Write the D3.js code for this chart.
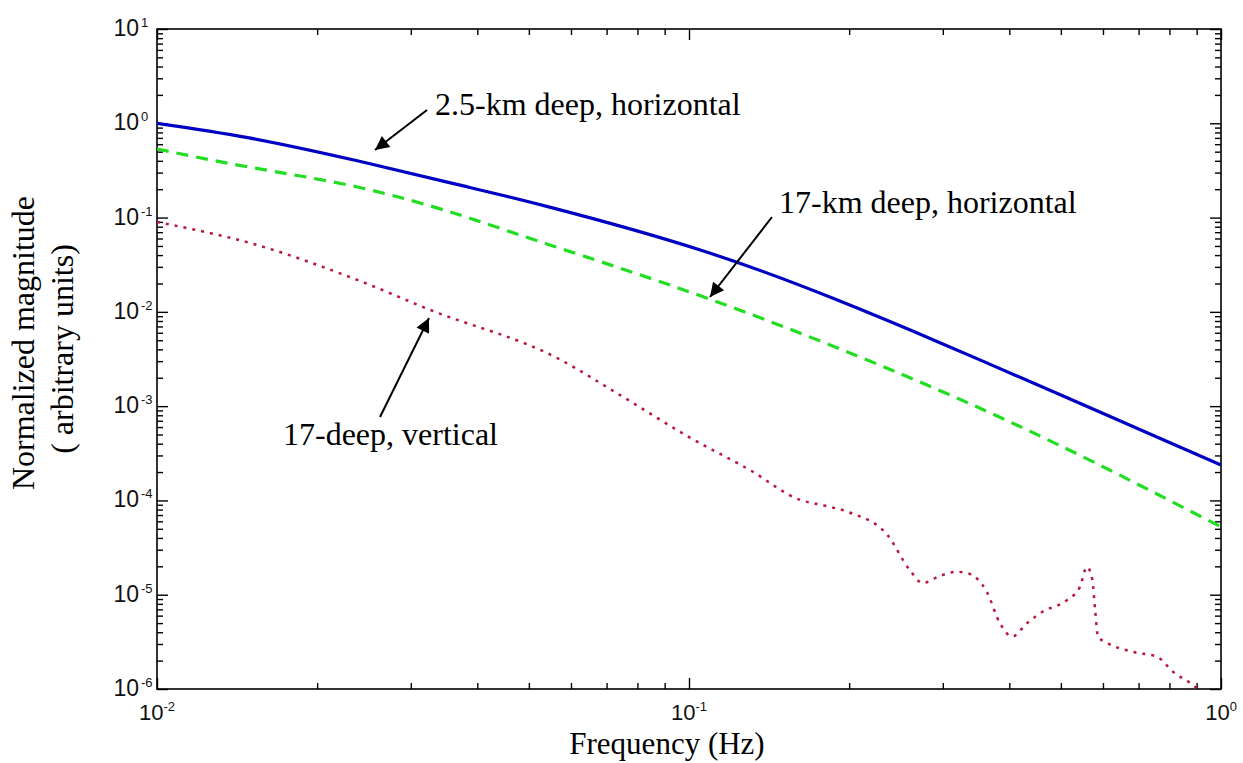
<!DOCTYPE html>
<html>
<head>
<meta charset="utf-8">
<script src="https://cdn.jsdelivr.net/npm/d3@7"></script>
<style>
  body { margin: 0; background: #fff; }
</style>
</head>
<body>
<div id="chart"></div>
<script>
// frequency (Hz) and normalized magnitude
var freqBlue = [0.01, 0.0149, 0.0238, 0.0366, 0.0547, 0.105, 0.186, 0.3, 0.5, 0.7, 1.0];
var magBlue  = [1.0, 0.70, 0.40, 0.225, 0.129, 0.0453, 0.0140, 0.00457, 0.00131, 0.000573, 0.000238];

var freqGreen = [0.01, 0.0149, 0.0238, 0.0366, 0.0547, 0.11, 0.249, 0.498, 1.0];
var magGreen  = [0.534, 0.343, 0.211, 0.109, 0.0513, 0.0135, 0.00222, 0.000382, 0.0000524];

var freqRed = [0.01, 0.0154, 0.0238, 0.0326, 0.0565, 0.0742, 0.1, 0.1302, 0.162, 0.18, 0.201, 0.236, 0.260, 0.275,
               0.296, 0.319, 0.333, 0.363, 0.384, 0.405, 0.432, 0.462, 0.514, 0.543, 0.560, 0.573,
               0.580, 0.587, 0.611, 0.684, 0.759, 0.813, 0.875, 0.934, 1.0];
var magRed  = [0.0898, 0.0513, 0.0218, 0.0105, 0.00324, 0.00131, 0.00047, 0.00021, 0.000101, 0.000088, 0.000074, 0.000043,
               0.0000183, 0.0000133, 0.0000158, 0.0000175, 0.000017, 0.0000107, 0.000005, 0.0000036,
               0.000005, 0.0000066, 0.0000088, 0.0000121, 0.0000197, 0.0000144, 0.0000069, 0.0000036,
               0.00000308, 0.00000247, 0.00000219, 0.00000152, 0.00000116, 0.00000087, 0.0000007];

var xMajor = [0.01, 0.1, 1];
var xExp = ["-2", "-1", "0"];
var yMajor = [1e-6, 1e-5, 1e-4, 1e-3, 1e-2, 1e-1, 1, 10];
var yExp = ["-6", "-5", "-4", "-3", "-2", "-1", "0", "1"];

var annotations = [
  { text: "2.5-km deep, horizontal", tx: 435, ty: 115, x1: 427, y1: 110, x2: 375, y2: 150 },
  { text: "17-km deep, horizontal", tx: 779, ty: 213, x1: 772, y1: 217, x2: 710, y2: 297 },
  { text: "17-deep, vertical", tx: 283, ty: 445, x1: 380, y1: 417, x2: 429, y2: 318 }
];

var SANS = "'Liberation Sans', Arial, Helvetica, sans-serif";
var SERIF = "'Liberation Serif', 'Times New Roman', Times, serif";

function init() {
  var W = 1243, H = 763;
  var m = { left: 157, top: 29, right: 22, bottom: 74 };
  var w = W - m.left - m.right;
  var h = H - m.top - m.bottom;

  var x = d3.scaleLog().domain([0.01, 1]).range([0, w]);
  var y = d3.scaleLog().domain([1e-6, 10]).range([h, 0]);

  // minor tick positions 2..9 in every decade
  function minors(lo, hi) {
    var out = [];
    for (var d = lo; d < hi; d++) {
      for (var k = 2; k <= 9; k++) out.push(k * Math.pow(10, d));
    }
    return out;
  }
  var xMinor = minors(-2, 0);
  var yMinor = minors(-6, 1);

  var svg = d3.select("#chart").append("svg")
      .attr("width", W).attr("height", H);

  var defs = svg.append("defs");
  defs.append("clipPath").attr("id", "clip")
    .append("rect").attr("width", w).attr("height", h);

  var g = svg.append("g").attr("transform", "translate(" + m.left + "," + m.top + ")");

  // ticks on all four sides, pointing inward
  function drawAxis(axis, tr) {
    var a = g.append("g").attr("transform", tr).call(axis);
    a.select(".domain").remove();
    a.selectAll("line").attr("stroke", "#000").attr("stroke-width", 1.4);
    a.selectAll("text").remove();
  }
  [[xMajor, 11], [xMinor, 6]].forEach(function(t) {
    drawAxis(d3.axisBottom(x).tickValues(t[0]).tickSize(-t[1]), "translate(0," + h + ")");
    drawAxis(d3.axisTop(x).tickValues(t[0]).tickSize(-t[1]), "translate(0,0)");
  });
  [[yMajor, 11], [yMinor, 6]].forEach(function(t) {
    drawAxis(d3.axisLeft(y).tickValues(t[0]).tickSize(-t[1]), "translate(0,0)");
    drawAxis(d3.axisRight(y).tickValues(t[0]).tickSize(-t[1]), "translate(" + w + ",0)");
  });

  g.append("rect").attr("width", w).attr("height", h)
    .attr("fill", "none").attr("stroke", "#000").attr("stroke-width", 1.6);

  // tick labels: 10 with superscript exponent
  xMajor.forEach(function(v, i) {
    var t = g.append("text")
      .attr("x", x(v)).attr("y", h + 31)
      .attr("text-anchor", "middle")
      .style("font-family", SANS).style("font-size", "22px").attr("fill", "#111");
    t.append("tspan").text("10");
    t.append("tspan").attr("dy", -9).style("font-size", "13px").text(xExp[i]);
  });
  yMajor.forEach(function(v, i) {
    g.append("text")
      .attr("x", -18).attr("y", y(v) + 7)
      .attr("text-anchor", "end")
      .style("font-family", SANS).style("font-size", "23px").attr("fill", "#111")
      .text("10");
    g.append("text")
      .attr("x", -16).attr("y", y(v) - 2)
      .style("font-family", SANS).style("font-size", "13px").attr("fill", "#111")
      .text(yExp[i]);
  });

  var smooth = d3.line()
    .x(function(d) { return x(d[0]); })
    .y(function(d) { return y(d[1]); })
    .curve(d3.curveNatural);

  var line = d3.line()
    .x(function(d) { return x(d[0]); })
    .y(function(d) { return y(d[1]); })
    .curve(d3.curveMonotoneX);

  var plot = g.append("g").attr("clip-path", "url(#clip)");

  plot.append("path")
    .attr("d", smooth(d3.zip(freqBlue, magBlue)))
    .attr("fill", "none").attr("stroke", "#0000c4").attr("stroke-width", 3.2);

  plot.append("path")
    .attr("d", smooth(d3.zip(freqGreen, magGreen)))
    .attr("fill", "none").attr("stroke", "#22dd22").attr("stroke-width", 3.2)
    .attr("stroke-dasharray", "12,8");

  plot.append("path")
    .attr("d", line(d3.zip(freqRed, magRed)))
    .attr("fill", "none").attr("stroke", "#b8183c").attr("stroke-width", 2.5)
    .attr("stroke-dasharray", "3,6");

  // annotations with arrows
  defs.append("marker")
    .attr("id", "arrow").attr("viewBox", "0 0 10 10")
    .attr("refX", 10).attr("refY", 5)
    .attr("markerWidth", 18).attr("markerHeight", 14)
    .attr("markerUnits", "userSpaceOnUse")
    .attr("orient", "auto")
    .append("path").attr("d", "M0,0L10,5L0,10Z").attr("fill", "#000");

  svg.selectAll("line.ann")
    .data(annotations).enter()
    .append("line").attr("class", "ann")
    .attr("x1", function(d) { return d.x1; }).attr("y1", function(d) { return d.y1; })
    .attr("x2", function(d) { return d.x2; }).attr("y2", function(d) { return d.y2; })
    .attr("stroke", "#000").attr("stroke-width", 2)
    .attr("marker-end", "url(#arrow)");

  svg.selectAll("text.ann")
    .data(annotations).enter()
    .append("text").attr("class", "ann")
    .attr("x", function(d) { return d.tx; }).attr("y", function(d) { return d.ty; })
    .style("font-family", SERIF).style("font-size", "32px").attr("fill", "#000")
    .text(function(d) { return d.text; });

  // axis titles
  svg.append("text")
    .attr("x", 667).attr("y", 754)
    .attr("text-anchor", "middle")
    .style("font-family", SERIF).style("font-size", "31px")
    .text("Frequency (Hz)");

  svg.append("text")
    .attr("transform", "translate(34,343) rotate(-90)")
    .attr("text-anchor", "middle")
    .style("font-family", SERIF).style("font-size", "32px")
    .text("Normalized magnitude");

  svg.append("text")
    .attr("transform", "translate(73,349) rotate(-90)")
    .attr("text-anchor", "middle")
    .style("font-family", SERIF).style("font-size", "32px")
    .text("( arbitrary units)");
}

window.onload = init;
</script>
</body>
</html>
